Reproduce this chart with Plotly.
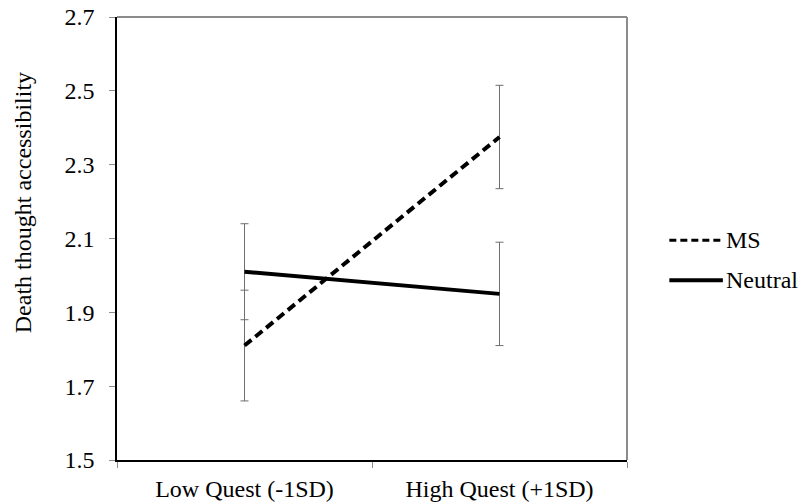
import plotly.graph_objects as go

categories = ["Low Quest (-1SD)", "High Quest (+1SD)"]
ms_values = [1.81, 2.375]
ms_err = [0.15, 0.14]
neutral_values = [2.01, 1.95]
neutral_err = [0.13, 0.14]
y_ticks = [1.5, 1.7, 1.9, 2.1, 2.3, 2.5, 2.7]
series_names = ["MS", "Neutral"]
y_title = "Death thought accessibility"

FONT = "Liberation Serif, Times New Roman, serif"
FS = 24

fig = go.Figure()
fig.add_trace(go.Scatter(
    x=categories, y=ms_values, mode="lines", name=series_names[0],
    line=dict(color="black", width=4, dash="9px,5px"),
    error_y=dict(type="data", array=ms_err, color="#6e6e6e", thickness=1, width=4),
    showlegend=False))
fig.add_trace(go.Scatter(
    x=categories, y=neutral_values, mode="lines", name=series_names[1],
    line=dict(color="black", width=4),
    error_y=dict(type="data", array=neutral_err, color="#6e6e6e", thickness=1, width=4),
    showlegend=False))

# gray frame on top and right
fig.add_shape(type="line", xref="paper", yref="paper", x0=0, x1=1, y0=1, y1=1,
              line=dict(color="#8c8c8c", width=2), layer="below")
fig.add_shape(type="line", xref="paper", yref="paper", x0=1, x1=1, y0=0, y1=1,
              line=dict(color="#8c8c8c", width=2), layer="below")

# manual legend
legend_y = [0.496, 0.406]
dashes = ["7px,4px", "solid"]
for name, ly, d in zip(series_names, legend_y, dashes):
    fig.add_shape(type="line", xref="paper", yref="paper",
                  x0=1.083, x1=1.188, y0=ly, y1=ly,
                  line=dict(color="black", width=4 if d == "solid" else 3, dash=d))
    fig.add_annotation(xref="paper", yref="paper", x=1.19, y=ly, text=name,
                       showarrow=False, xanchor="left", yanchor="middle",
                       font=dict(family=FONT, size=FS, color="black"))

# y-axis title
fig.add_annotation(xref="paper", yref="paper", x=-0.184, y=0.58, text=y_title,
                   textangle=-90, showarrow=False, xanchor="center", yanchor="middle",
                   font=dict(family=FONT, size=FS, color="black"))

fig.update_layout(
    width=801, height=504,
    margin=dict(l=117, r=174, t=17, b=44),
    paper_bgcolor="white", plot_bgcolor="white",
    font=dict(family=FONT, size=FS, color="black"),
    showlegend=False,
)
fig.update_xaxes(
    type="category", tickson="boundaries", ticks="outside", ticklen=6,
    tickcolor="#8c8c8c", showline=True, linecolor="black", linewidth=1.5,
    showgrid=False, zeroline=False, range=[-0.5, 1.5], ticklabelstandoff=6,
    automargin=False,
    tickfont=dict(family=FONT, size=FS, color="black"))
fig.update_yaxes(
    range=[1.5, 2.7], tickvals=y_ticks, ticktext=[f"{v:.1f}" for v in y_ticks],
    ticks="outside", ticklen=6, tickcolor="#8c8c8c", showline=True,
    linecolor="black", linewidth=1.5, showgrid=False, zeroline=False,
    ticklabelstandoff=10, automargin=False,
    tickfont=dict(family=FONT, size=FS, color="black"))

fig.write_html("out.html")
